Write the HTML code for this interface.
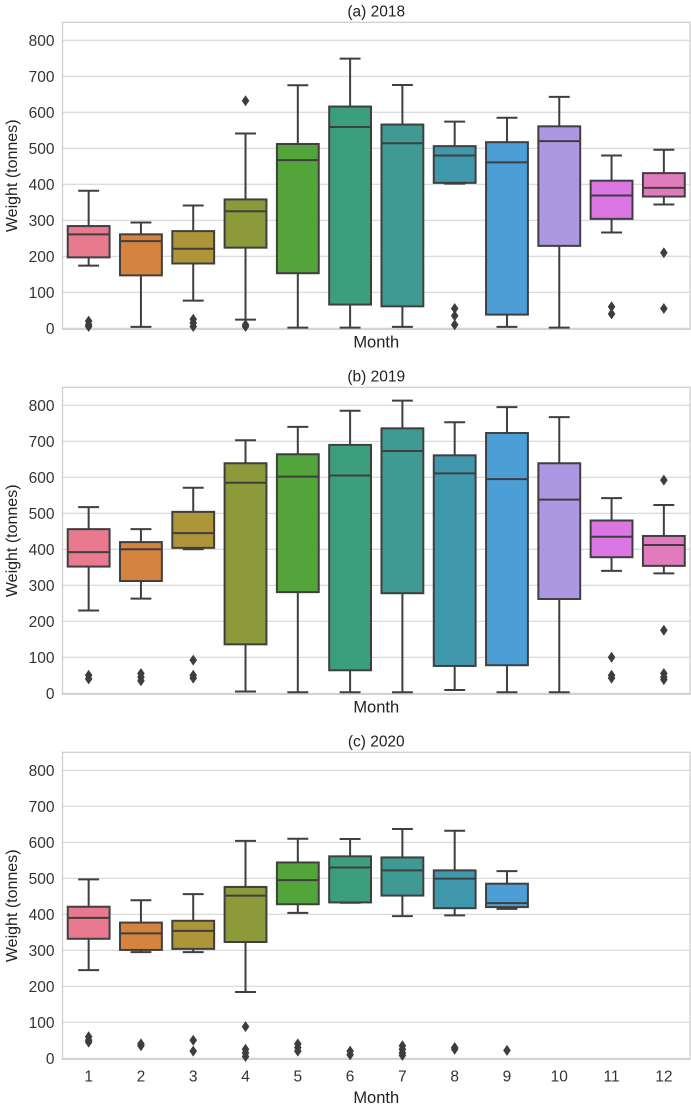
<!DOCTYPE html>
<html><head><meta charset="utf-8"><style>
body{margin:0;background:#fff;}
svg{display:block;font-family:"Liberation Sans",sans-serif;}
</style></head><body>
<svg id="chart" width="691" height="1106" viewBox="0 0 691 1106" xmlns="http://www.w3.org/2000/svg"></svg>
<script>
const months = [1,2,3,4,5,6,7,8,9,10,11,12];
const yTicks = [0,100,200,300,400,500,600,700,800];
const titles = ["(a) 2018","(b) 2019","(c) 2020"];
const colors = ["#e8798f","#d5843f","#ad963a","#8c9a3c","#53a43a","#3b9e7c","#3e9a93","#3f98ac","#4c9ed6","#ac97e3","#db76e5","#e07bbd"];
// [low whisker, Q1, median, Q3, high whisker]
const stats2018 = [[174,197,261,284,382],[4,147,242,261,294],[77,180,221,270,341],[24,224,325,358,541],[2,153,467,512,675],[2,66,559,616,749],[4,61,514,566,676],[402,404,480,506,574],[4,38,461,517,585],[2,229,520,561,643],[266,304,369,410,480],[344,366,390,431,496]];
const out2018 = [[20,10,5],[],[25,15,5],[632,10,5],[],[],[],[55,35,10],[],[],[60,40],[210,55]];
const stats2019 = [[230,352,392,456,517],[263,312,400,420,456],[400,404,445,504,571],[5,136,585,639,703],[3,281,602,664,740],[3,64,605,690,785],[3,278,673,736,813],[9,76,611,661,753],[3,78,595,723,795],[3,262,538,639,767],[340,378,435,480,542],[333,354,412,437,523]];
const out2019 = [[50,40],[55,45,35],[92,50,42],[],[],[],[],[],[],[],[100,50,42],[592,175,55,45,38]];
const stats2020 = [[245,332,390,421,497],[295,301,347,377,439],[295,304,354,382,456],[184,323,452,476,604],[404,428,495,544,610],[432,433,530,561,609],[395,452,522,558,637],[397,417,499,522,632],[415,420,431,485,520],null,null,null];
const out2020 = [[60,50,45],[40,35],[50,20],[88,25,15,5],[40,30,20],[20,10],[35,25,15,8],[30,25],[22],[],[],[]];
const allStats = [stats2018, stats2019, stats2020];
const allOut = [out2018, out2019, out2020];

const NS = "http://www.w3.org/2000/svg";
const svg = document.getElementById("chart");
function mk(tag, attrs, parent){const e=document.createElementNS(NS,tag);for(const k in attrs)e.setAttribute(k,attrs[k]);(parent||svg).appendChild(e);return e;}

const L=62.5, R=690, zeros=[328.3,693.3,1058.3], k=0.36;
const band=(R-L)/months.length;
function xc(i){return L+band*(i+0.5);}

for(let p=0;p<3;p++){
  const z=zeros[p];
  const y=v=>z-v*k;
  const g=mk("g",{});
  
  
  const top=y(850), bot=z+1;
  for(const t of yTicks){
    const gl=mk("line",{x1:L,x2:R,y1:y(t),y2:y(t),stroke:"#d6d6d6","stroke-width":1.2},g);
    
    
    const tl=mk("text",{x:L-8,y:y(t)+5.5,"text-anchor":"end","font-size":15.5,fill:"#333"},g);
    tl.textContent=t;
    
    
  }
  const fr=mk("rect",{x:L,y:top,width:R-L,height:bot-top,fill:"none",stroke:"#cfcfcf","stroke-width":1.3},g);
  
  
  const tt=mk("text",{x:(L+R)/2,y:top-6,"text-anchor":"middle","font-size":15.5,fill:"#222"},g);
  tt.textContent=titles[p];
  
  
  const yl=mk("text",{x:0,y:0,"text-anchor":"middle","font-size":16,fill:"#222",transform:`translate(17,${(top+bot)/2}) rotate(-90)`},g);
  yl.textContent="Weight (tonnes)";
  
  
  const xl=mk("text",{x:(L+R)/2,y:p==2?1103:bot+18,"text-anchor":"middle","font-size":16.5,fill:"#222"},g);
  xl.textContent="Month";
  
  
  if(p==2){
    months.forEach((m,i)=>{
      const t=mk("text",{x:xc(i),y:bot+22,"text-anchor":"middle","font-size":15.5,fill:"#333"},g);
      t.textContent=m;
      
      
    });
  }
  const st=allStats[p], ou=allOut[p];
  const bw=band*0.8;
  months.forEach((m,i)=>{
    const s=st[i]; if(!s) return;
    const cx=xc(i);
    const bg=mk("g",{},g);
    
    
    const lc="#3f3f3f";
    mk("line",{x1:cx,x2:cx,y1:y(s[3]),y2:y(s[4]),stroke:lc,"stroke-width":2},bg);
    mk("line",{x1:cx,x2:cx,y1:y(s[1]),y2:y(s[0]),stroke:lc,"stroke-width":2},bg);
    mk("line",{x1:cx-bw/4,x2:cx+bw/4,y1:y(s[4]),y2:y(s[4]),stroke:lc,"stroke-width":2},bg);
    mk("line",{x1:cx-bw/4,x2:cx+bw/4,y1:y(s[0]),y2:y(s[0]),stroke:lc,"stroke-width":2},bg);
    mk("rect",{x:cx-bw/2,y:y(s[3]),width:bw,height:y(s[1])-y(s[3]),fill:colors[i],stroke:lc,"stroke-width":2},bg);
    mk("line",{x1:cx-bw/2,x2:cx+bw/2,y1:y(s[2]),y2:y(s[2]),stroke:lc,"stroke-width":2},bg);
    for(const o of ou[i]){
      const oy=y(o);
      const d=mk("path",{d:`M${cx},${oy-5.5} L${cx+3.8},${oy} L${cx},${oy+5.5} L${cx-3.8},${oy} Z`,fill:"#3d3d3d"},bg);
      
      
    }
  });
}
</script>
</body></html>
